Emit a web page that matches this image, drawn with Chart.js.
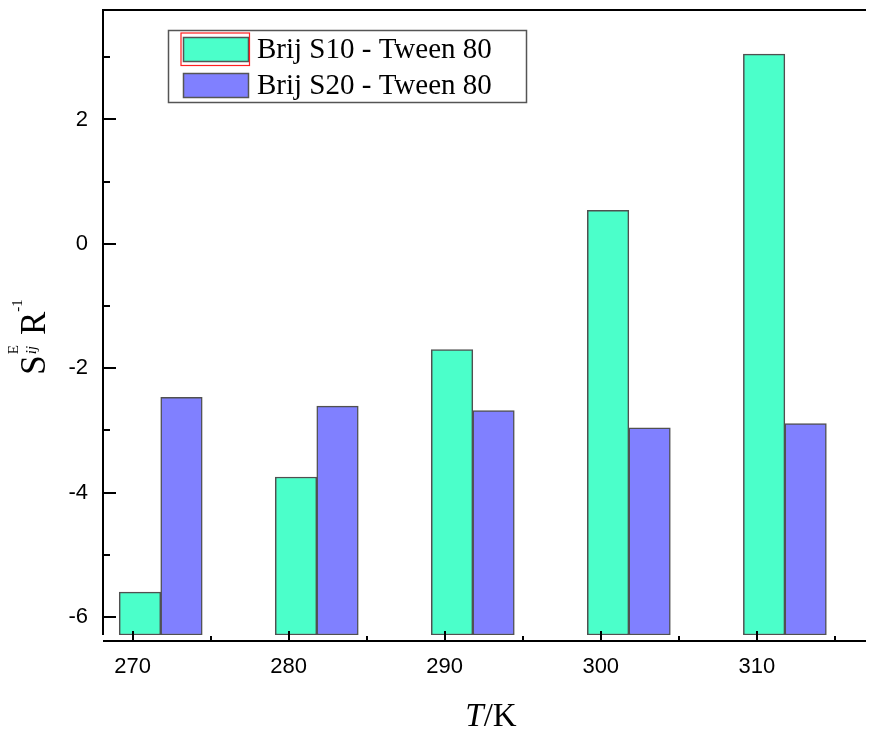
<!DOCTYPE html>
<html>
<head>
<meta charset="utf-8">
<script src="https://cdn.jsdelivr.net/npm/chart.js@4.4.0/dist/chart.umd.min.js"></script>
<style>
  html, body { margin: 0; padding: 0; background: #fff; }
  canvas { display: block; }
</style>
</head>
<body>
<canvas id="chart" width="870" height="729"></canvas>
<script>
// data
const temperatures = [270, 280, 290, 300, 310];
const brijS10 = [-5.60, -3.75, -1.70, 0.54, 3.05];
const brijS20 = [-2.47, -2.61, -2.68, -2.96, -2.89];
const seriesLabels = ['Brij S10 - Tween 80', 'Brij S20 - Tween 80'];
const seriesColors = ['#4BFFCA', '#8080FF'];
const yTicks = [-6, -4, -2, 0, 2];
const xTicks = [270, 280, 290, 300, 310];

const Y_MIN = -6.29, Y_MAX = 3.76;
const X_MIN = 268.1, X_MAX = 317.0;
// Origin puts each pair of bars a little right of its tick
const GROUP_SHIFT = 1.8;

const SERIF = '"Liberation Serif", "Times New Roman", serif';
const SANS = '"Liberation Sans", Arial, sans-serif';

function toPoints(values) {
    return temperatures.map((t, i) => ({ x: t, y: values[i] }));
}

function noPadding(s) {
    s.paddingTop = 0;
    s.paddingBottom = 0;
    s.paddingLeft = 0;
    s.paddingRight = 0;
}

function drawAxes(chart) {
    const { ctx, chartArea: a, scales: { x, y } } = chart;
    const xAxisY = a.bottom + 6;
    ctx.save();
    ctx.strokeStyle = '#000';
    ctx.lineWidth = 2;
    ctx.beginPath();
    ctx.moveTo(a.left, a.bottom);
    ctx.lineTo(a.left, a.top);
    ctx.lineTo(a.right, a.top);
    ctx.moveTo(a.left, xAxisY);
    ctx.lineTo(a.right, xAxisY);
    yTicks.forEach(v => {
        const py = Math.round(y.getPixelForValue(v));
        ctx.moveTo(a.left, py);
        ctx.lineTo(a.left + 13, py);
        const pm = Math.round(y.getPixelForValue(v + 1));
        if (pm > a.top) {
            ctx.moveTo(a.left, pm);
            ctx.lineTo(a.left + 7, pm);
        }
    });
    xTicks.forEach(v => {
        const px = Math.round(x.getPixelForValue(v));
        ctx.moveTo(px, xAxisY);
        ctx.lineTo(px, xAxisY - 10);
        const pm = Math.round(x.getPixelForValue(v + 5));
        if (pm < a.right) {
            ctx.moveTo(pm, xAxisY);
            ctx.lineTo(pm, xAxisY - 5);
        }
    });
    ctx.stroke();
    ctx.restore();
}

function drawLegend(chart) {
    const { ctx } = chart;
    ctx.save();
    ctx.fillStyle = '#fff';
    ctx.fillRect(168, 30, 359, 73);
    ctx.strokeStyle = '#555';
    ctx.lineWidth = 1.5;
    ctx.strokeRect(168.5, 30.5, 358, 72);

    const rows = [37, 73];
    rows.forEach((top, i) => {
        ctx.fillStyle = seriesColors[i];
        ctx.fillRect(183, top, 66, 25);
        ctx.strokeStyle = '#555';
        ctx.lineWidth = 1.5;
        ctx.strokeRect(183.5, top + 0.5, 65, 24);
        ctx.fillStyle = '#000';
        ctx.font = '29px ' + SERIF;
        ctx.textBaseline = 'alphabetic';
        ctx.textAlign = 'left';
        ctx.fillText(seriesLabels[i], 257, top + 21);
    });
    // selection box left by Origin around the first swatch
    ctx.strokeStyle = '#ff1f1f';
    ctx.lineWidth = 1.2;
    ctx.strokeRect(181, 33, 68.5, 32.5);
    ctx.restore();
}

function drawTitles(chart) {
    const { ctx } = chart;
    ctx.save();
    ctx.fillStyle = '#000';
    ctx.textBaseline = 'alphabetic';
    ctx.textAlign = 'left';

    // x title: T/K
    const italic = 'italic 33px ' + SERIF;
    const upright = '33px ' + SERIF;
    ctx.font = italic;
    const wT = ctx.measureText('T').width;
    ctx.font = upright;
    const wRest = ctx.measureText('/K').width;
    const x0 = 491 - (wT + wRest) / 2;
    ctx.font = italic;
    ctx.fillText('T', x0, 726);
    ctx.font = upright;
    ctx.fillText('/K', x0 + wT, 726);

    // y title: S^E_ij R^-1, rotated
    const big = '35px ' + SERIF;
    const small = '15px ' + SERIF;
    const smallIt = 'italic 15px ' + SERIF;
    ctx.font = big;
    const wS = ctx.measureText('S').width;
    const wR = ctx.measureText('R').width;
    ctx.font = small;
    const wE = ctx.measureText('E').width;
    const wM1 = ctx.measureText('-1').width;
    ctx.font = smallIt;
    const wij = ctx.measureText('ij').width;
    const subX = wS + 1;
    const rX = subX + Math.max(wE, wij) + 10;
    const supX = rX + wR;
    const total = supX + wM1;

    ctx.translate(45, 337 + total / 2);
    ctx.rotate(-Math.PI / 2);
    ctx.font = big;
    ctx.fillText('S', 0, 0);
    ctx.fillText('R', rX, 0);
    ctx.font = small;
    ctx.fillText('E', subX, -27);
    ctx.fillText('-1', supX, -23);
    ctx.font = smallIt;
    ctx.fillText('ij', subX, -9);
    ctx.restore();
}

const originDecor = {
    id: 'originDecor',
    afterDraw(chart) {
        drawAxes(chart);
        drawLegend(chart);
        drawTitles(chart);
    }
};

const barStyle = {
    borderColor: '#505050',
    borderWidth: 1.5,
    borderSkipped: false,
    barThickness: 41.5,
    base: Y_MIN,
    xAxisID: 'xb'
};

new Chart(document.getElementById('chart'), {
    type: 'bar',
    data: {
        datasets: [
            { label: seriesLabels[0], data: toPoints(brijS10), backgroundColor: seriesColors[0], ...barStyle },
            { label: seriesLabels[1], data: toPoints(brijS20), backgroundColor: seriesColors[1], ...barStyle }
        ]
    },
    options: {
        responsive: false,
        animation: false,
        layout: { padding: { top: 10, right: 4, left: 0, bottom: 0 } },
        plugins: {
            legend: { display: false },
            tooltip: { enabled: false }
        },
        scales: {
            xb: {
                type: 'linear',
                display: false,
                offset: false,
                min: X_MIN - GROUP_SHIFT,
                max: X_MAX - GROUP_SHIFT,
                afterBuildTicks: s => { s.ticks = temperatures.map(v => ({ value: v })); }
            },
            x: {
                type: 'linear',
                position: 'bottom',
                offset: false,
                min: X_MIN,
                max: X_MAX,
                afterBuildTicks: s => { s.ticks = xTicks.map(v => ({ value: v })); },
                afterFit: s => { s.height = 94; noPadding(s); },
                grid: { display: false, drawTicks: false, offset: false },
                border: { display: false },
                ticks: {
                    padding: 19,
                    color: '#000',
                    font: { family: SANS, size: 22 },
                    maxRotation: 0,
                    callback: v => String(v)
                }
            },
            y: {
                type: 'linear',
                min: Y_MIN,
                max: Y_MAX,
                afterBuildTicks: s => { s.ticks = yTicks.map(v => ({ value: v })); },
                afterFit: s => { s.width = 103; noPadding(s); },
                grid: { display: false, drawTicks: false },
                border: { display: false },
                ticks: {
                    padding: 15,
                    color: '#000',
                    font: { family: SANS, size: 22 },
                    callback: v => String(v)
                }
            }
        }
    },
    plugins: [originDecor]
});
</script>
</body>
</html>
